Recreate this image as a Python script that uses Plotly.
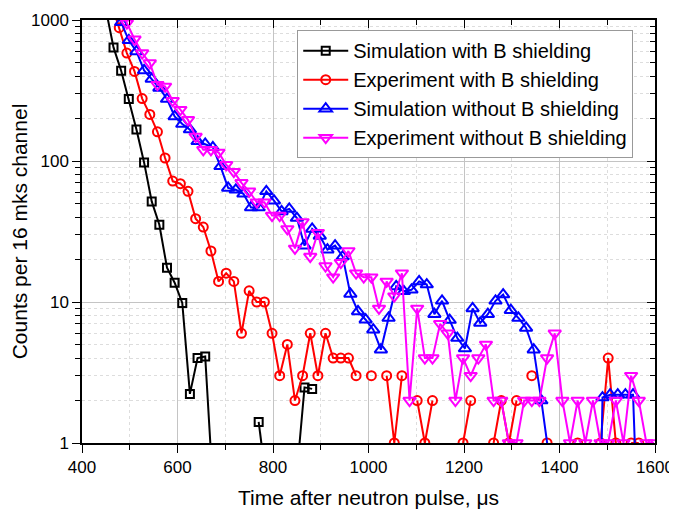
import plotly.graph_objects as go

# Channel centres (16 us channels); simulation and experiment grids are offset slightly
sim_time = list(range(450, 1603, 16))   # 73 channels
exp_time = list(range(462, 1603, 16))   # 72 channels

N = None

sim_with_B = [1190, 639, 437, 275, 167, 97.7, 51.7, 35.3, 17.5, 13.7,
              9.84, 2.23, 4.0, 4.11, 0.5, N, N, N, N, N,
              1.41, 0.53, N, N, N, 0.61, 2.48, 2.42, N, N,
              N, N, N, N, N, N, N, N, N, N,
              N, N, N, N, N, N, N, N, N, N,
              N, N, N, N, N, N, N, N, N, N,
              N, N, N, N, N, N, N, N, N, N,
              N, N, N]

sim_without_B = [N, 1200, 962, 717, 599, 439, 382, 330, 275, 207,
                 183, 167, 138, 132, 125, 91.6, 64.4, 62.5, 58.5, 46.8,
                 46.8, 60.9, 52.3, 43.9, 45.7, 39.4, 25.1, 33.0, 29.4, 23.5,
                 25.1, 21.0, 11.4, 8.58, 7.49, 6.36, 4.59, 7.7, 12.9, 11.9,
                 12.2, 14.0, 13.3, 8.2, 10.2, 7.45, 5.55, 4.68, 9.0, 7.1,
                 8.2, 10.2, 11.3, 8.75, 7.7, 6.55, 4.59, 2.0, 0.8, N,
                 N, N, N, N, 0.002, 2.1, 2.2, 2.2, 2.2, 2.2,
                 0.07, N, N]

exp_with_B = [1300, 882, 583, 432, 277, 214, 161, 105, 72, 69,
              61, 39, 34, 23, 14, 16, 14, 6, 12, 10,
              10, 6, 3, 5, 2, 3, 6, 3, 6, 4,
              4, 4, 3, N, 3, N, 3, 1, 3, N,
              2, 1, 2, N, N, N, 1, 2, N, N,
              1, 2, 1, 2, N, 3, N, 1, N, N,
              N, 1, N, N, 1, 4, 1, N, 1, 1,
              N, N]

exp_without_B = [N, 1500, 950, 730, 583, 495, 348, 338, 268, 231,
                 196, 149, 120, 120, 115, 94, 84, 70, 61, 51,
                 51, 41, 41, 33, 24, 37, 21, 31, 18, 15,
                 19, 23, 16, 15, 15, 9, 14, 11, 16, 2,
                 9, 4, 4, 7, 6, 2, 4, 3, 4, 5,
                 2, 2, 1, 1, 2, 2, 2, 4, 6, 2,
                 1, 2, 1, 2, 1, 1, 2, 1, 3, 2,
                 1, 1]

series = [
    ("Simulation with B shielding", sim_time, sim_with_B, "#000000", "square-open", 8),
    ("Experiment with B shielding", exp_time, exp_with_B, "#ff0000", "circle-open", 9),
    ("Simulation without B shielding", sim_time, sim_without_B, "#0000ff", "triangle-up-open", 11),
    ("Experiment without B shielding", exp_time, exp_without_B, "#ff00ff", "triangle-down-open", 11),
]

x_ticks = [400, 600, 800, 1000, 1200, 1400, 1600]
y_ticks = [1, 10, 100, 1000]
y_ticktext = ["1", "10", "100", "1000"]

FONT = "Liberation Sans, Arial, sans-serif"

fig = go.Figure()
for name, t, v, color, sym, size in series:
    fig.add_trace(go.Scatter(
        x=t, y=v, name=name, mode="lines+markers",
        line=dict(color=color, width=2),
        marker=dict(symbol=sym, size=size, color=color, line=dict(color=color, width=2)),
        connectgaps=False, cliponaxis=True,
    ))

# dummy trace to create overlay axes for inward ticks on top / right
fig.add_trace(go.Scatter(x=[None], y=[None], xaxis="x2", yaxis="y2",
                         showlegend=False, hoverinfo="skip"))

# the page body adds an 8 px offset, so the figure is 8 px smaller than the window
fig.update_layout(
    width=669, height=505,
    margin=dict(l=74, r=22, t=12, b=70),
    paper_bgcolor="white", plot_bgcolor="white",
    font=dict(family=FONT, color="black"),
    showlegend=True,
    legend=dict(x=0.962, y=0.976, xanchor="right", yanchor="top",
                bgcolor="white", bordercolor="#999999", borderwidth=1,
                font=dict(size=20, family=FONT), tracegroupgap=0, itemwidth=45),
    xaxis=dict(
        range=[400, 1600], tickmode="array", tickvals=x_ticks, automargin=False,
        ticks="outside", ticklen=8, tickwidth=1.3, tickcolor="black",
        showline=True, linecolor="black", linewidth=1.5, mirror=True,
        showgrid=True, gridcolor="#c4c4c4", gridwidth=1,
        zeroline=False,
        tickfont=dict(size=17),
        minor=dict(dtick=100, ticks="outside", ticklen=5, tickcolor="black",
                   showgrid=True, gridcolor="#dddddd", griddash="dot", gridwidth=1),
        title=dict(text="Time after neutron pulse, \u03bcs", font=dict(size=21), standoff=14),
    ),
    yaxis=dict(
        type="log", range=[0, 3], tickmode="array", tickvals=y_ticks, ticktext=y_ticktext,
        automargin=False,
        ticks="outside", ticklen=8, tickwidth=1.3, tickcolor="black",
        showline=True, linecolor="black", linewidth=1.5, mirror=True,
        showgrid=True, gridcolor="#c4c4c4", gridwidth=1,
        zeroline=False,
        tickfont=dict(size=17),
        minor=dict(dtick="D1", ticks="outside", ticklen=5, tickcolor="black",
                   showgrid=True, gridcolor="#dddddd", griddash="dot", gridwidth=1),
        title=dict(text="Counts per 16 mks channel", font=dict(size=21), standoff=12),
    ),
    xaxis2=dict(
        overlaying="x", side="top", anchor="y2", range=[400, 1600], automargin=False,
        tickmode="array", tickvals=x_ticks, showticklabels=False,
        ticks="inside", ticklen=8, tickcolor="black", showgrid=False, zeroline=False,
        showline=False,
        minor=dict(dtick=100, ticks="inside", ticklen=5, tickcolor="black", showgrid=False),
    ),
    yaxis2=dict(
        overlaying="y", side="right", anchor="x2", type="log", range=[0, 3], automargin=False,
        tickmode="array", tickvals=y_ticks, showticklabels=False,
        ticks="inside", ticklen=8, tickcolor="black", showgrid=False, zeroline=False,
        showline=False,
        minor=dict(dtick="D1", ticks="inside", ticklen=5, tickcolor="black", showgrid=False),
    ),
)

fig.write_html("out.html")
